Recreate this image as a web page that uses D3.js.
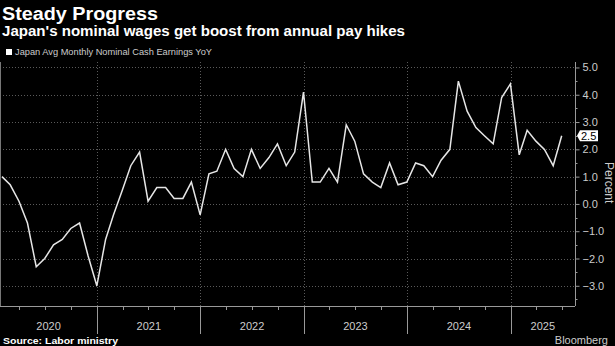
<!DOCTYPE html>
<html>
<head>
<meta charset="utf-8">
<script src="https://cdn.jsdelivr.net/npm/d3@7"></script>
<style>
  html, body { margin: 0; padding: 0; background: #000; }
  svg { display: block; }
</style>
</head>
<body>
<svg id="chart" width="615" height="346"></svg>
<script>
// ---- Data ----
const startYear = 2020;
const startMonth = 0; // January 2020, monthly through June 2025
const values = [
  1.0, 0.7, 0.1, -0.7, -2.3, -2.0, -1.5, -1.3, -0.9, -0.7, -1.9, -3.0,   // 2020
  -1.3, -0.4, 0.5, 1.4, 1.9, 0.1, 0.6, 0.6, 0.2, 0.2, 0.8, -0.4,       // 2021
  1.1, 1.2, 2.0, 1.3, 1.0, 2.0, 1.3, 1.7, 2.2, 1.4, 1.9, 4.1,          // 2022
  0.8, 0.8, 1.3, 0.8, 2.9, 2.3, 1.1, 0.8, 0.6, 1.5, 0.7, 0.8,          // 2023
  1.5, 1.4, 1.0, 1.6, 2.0, 4.5, 3.4, 2.8, 2.5, 2.2, 3.9, 4.4,          // 2024
  1.8, 2.7, 2.3, 2.0, 1.4, 2.5                                         // 2025
];
const yTicks = [-3, -2, -1, 0, 1, 2, 3, 4, 5];
const yMinorTicks = [-3.5, -2.5, -1.5, -0.5, 0.5, 1.5, 2.5, 3.5, 4.5];
const yearLabels = ["2020", "2021", "2022", "2023", "2024", "2025"];
const title = "Steady Progress";
const subtitle = "Japan's nominal wages get boost from annual pay hikes";
const legendLabel = "Japan Avg Monthly Nominal Cash Earnings YoY";
const sourceText = "Source: Labor ministry";
const brandText = "Bloomberg";
const lastLabel = "2.5";

// ---- Build ----
const data = values.map((v, i) => ({
  date: new Date(Date.UTC(startYear, startMonth + i + 1, 0)),
  value: v
}));

const svg = d3.select("#chart");
const W = 615, H = 346;
const plotLeft = 0, plotRight = 575, plotTop = 62, plotBottom = 306;

const x = d3.scaleUtc()
  .domain([new Date(Date.UTC(2020, 0, 24)), new Date(Date.UTC(2025, 7, 16))])
  .range([plotLeft, plotRight]);
const y = d3.scaleLinear().domain([-3.74, 5.2]).range([plotBottom, plotTop]);

svg.append("rect").attr("width", W).attr("height", H).attr("fill", "#000");

const font = "'Liberation Sans', Arial, sans-serif";

// Titles
svg.append("text").attr("x", 2).attr("y", 20)
  .attr("fill", "#fff").attr("font-family", font).attr("font-weight", "bold")
  .attr("font-size", 18).attr("textLength", 156).attr("lengthAdjust", "spacingAndGlyphs")
  .text(title);
svg.append("text").attr("x", 2).attr("y", 36)
  .attr("fill", "#fff").attr("font-family", font).attr("font-weight", "bold")
  .attr("font-size", 14).attr("textLength", 403).attr("lengthAdjust", "spacingAndGlyphs")
  .text(subtitle);

// Legend
svg.append("rect").attr("x", 6).attr("y", 49).attr("width", 6).attr("height", 6).attr("fill", "#fff");
svg.append("text").attr("x", 15).attr("y", 55)
  .attr("fill", "#ccc").attr("font-family", font).attr("font-size", 9)
  .attr("textLength", 197).attr("lengthAdjust", "spacingAndGlyphs")
  .text(legendLabel);

// Horizontal gridlines
svg.append("g").selectAll("line").data(yTicks).join("line")
  .attr("x1", plotLeft).attr("x2", plotRight)
  .attr("y1", d => Math.round(y(d)) + 0.5).attr("y2", d => Math.round(y(d)) + 0.5)
  .attr("stroke", "#5a5a5a").attr("stroke-width", 1).attr("stroke-dasharray", "1,2");

// Vertical year gridlines
const yearStarts = d3.utcYear.range(new Date(Date.UTC(2021, 0, 1)), new Date(Date.UTC(2026, 0, 1)));
svg.append("g").selectAll("line").data(yearStarts).join("line")
  .attr("x1", d => Math.round(x(d)) + 0.5).attr("x2", d => Math.round(x(d)) + 0.5)
  .attr("y1", plotTop).attr("y2", plotBottom)
  .attr("stroke", "#5a5a5a").attr("stroke-width", 1).attr("stroke-dasharray", "1,2");

// Frame: left edge & bottom
svg.append("line").attr("x1", 0.5).attr("x2", 0.5).attr("y1", plotTop).attr("y2", plotBottom)
  .attr("stroke", "#777");
svg.append("line").attr("x1", 0).attr("x2", plotRight).attr("y1", plotBottom + 0.5).attr("y2", plotBottom + 0.5)
  .attr("stroke", "#999");

// Bottom axis: quarter ticks, year separators, labels
const quarters = d3.utcMonth.every(3).range(x.domain()[0], x.domain()[1]);
svg.append("g").selectAll("line").data(quarters.filter(d => d.getUTCMonth() !== 0)).join("line")
  .attr("x1", d => Math.round(x(d)) + 0.5).attr("x2", d => Math.round(x(d)) + 0.5)
  .attr("y1", plotBottom).attr("y2", plotBottom + 4)
  .attr("stroke", "#999");
svg.append("g").selectAll("line").data(yearStarts.filter(d => x(d) < plotRight)).join("line")
  .attr("x1", d => Math.round(x(d)) + 0.5).attr("x2", d => Math.round(x(d)) + 0.5)
  .attr("y1", plotBottom).attr("y2", plotBottom + 28)
  .attr("stroke", "#999");
const yearMid = yearLabels.map(lbl => {
  const a = Math.max(x(new Date(Date.UTC(+lbl, 0, 1))), plotLeft);
  const b = Math.min(x(new Date(Date.UTC(+lbl + 1, 0, 1))), plotRight);
  return { lbl, cx: (a + b) / 2 };
});
svg.append("g").selectAll("text").data(yearMid).join("text")
  .attr("x", d => d.cx).attr("y", 330)
  .attr("text-anchor", "middle").attr("fill", "#ccc")
  .attr("font-family", font).attr("font-size", 11)
  .text(d => d.lbl);

// Right axis
const yAxis = d3.axisRight(y).tickValues(yTicks).tickFormat(d3.format(".1f")).tickSize(4).tickPadding(3);
const gy = svg.append("g").attr("transform", `translate(${plotRight + 0.5},0)`).call(yAxis);
gy.select(".domain").attr("stroke", "#999").attr("d", `M0,${plotTop}V${plotBottom}`);
gy.selectAll(".tick line").attr("stroke", "#999");
gy.selectAll(".tick text").attr("fill", "#ccc").attr("font-family", font).attr("font-size", 11);
svg.append("g").attr("transform", `translate(${plotRight + 0.5},0)`).selectAll("line")
  .data(yMinorTicks).join("line")
  .attr("x1", 0).attr("x2", 2)
  .attr("y1", d => Math.round(y(d)) + 0.5).attr("y2", d => Math.round(y(d)) + 0.5)
  .attr("stroke", "#999");

// Axis title
svg.append("text")
  .attr("transform", `translate(605,${y(0.78)}) rotate(90)`)
  .attr("text-anchor", "middle").attr("fill", "#ccc")
  .attr("font-family", font).attr("font-size", 12)
  .text("Percent");

// Line
const line = d3.line().x(d => x(d.date)).y(d => y(d.value));
svg.append("path").datum(data)
  .attr("d", line).attr("fill", "none")
  .attr("stroke", "#e6e6e6").attr("stroke-width", 1.5).attr("stroke-linejoin", "miter");

// Last value label
const last = data[data.length - 1];
const ly = y(last.value);
const lg = svg.append("g").attr("transform", `translate(${plotRight + 2},${ly})`);
lg.append("path").attr("d", "M0,0 L3,-5.5 H21 V5.5 H3 Z").attr("fill", "#fff");
lg.append("text").attr("x", 4).attr("y", 4).attr("fill", "#000")
  .attr("font-family", font).attr("font-size", 11).text(lastLabel);

// Footer
svg.append("text").attr("x", 3).attr("y", 344)
  .attr("fill", "#fff").attr("font-family", font).attr("font-weight", "bold")
  .attr("font-size", 9.5).attr("textLength", 115).attr("lengthAdjust", "spacingAndGlyphs")
  .text(sourceText);
svg.append("text").attr("x", 608).attr("y", 344).attr("text-anchor", "end")
  .attr("fill", "#ccc").attr("font-family", font).attr("font-size", 11)
  .text(brandText);
</script>
</body>
</html>
